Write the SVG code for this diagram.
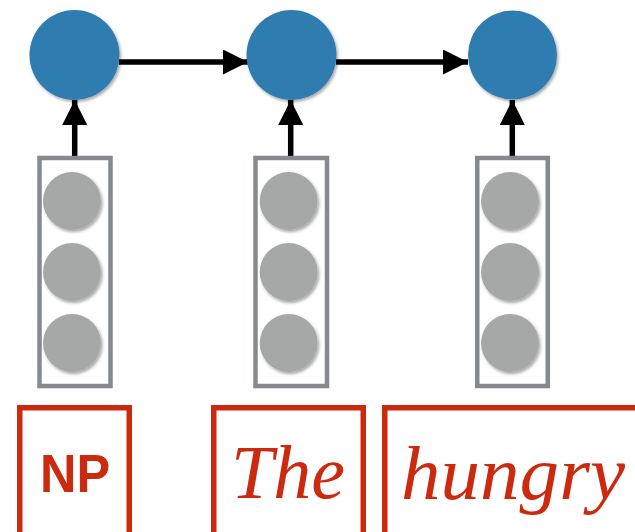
<svg xmlns="http://www.w3.org/2000/svg" width="635" height="532" viewBox="0 0 635 532">
<defs>
<filter id="sh" x="-20%" y="-20%" width="150%" height="150%">
<feDropShadow dx="1.5" dy="2" stdDeviation="1.5" flood-color="#000" flood-opacity="0.35"/>
</filter>
<marker id="ah" viewBox="0 0 25 25" refX="25" refY="12.5" markerWidth="25" markerHeight="25" markerUnits="userSpaceOnUse" orient="auto">
<path d="M0,0 L25,12.5 L0,25 Z" fill="#000"/>
</marker>
</defs>
<style>
.hid{fill:#2E7BB0;filter:url(#sh)}
.emb{fill:none;stroke:#86898D;stroke-width:4.5}
.dot{fill:#A6A8A7;filter:url(#sh)}
.lab{fill:none;stroke:#CC2A0E;stroke-width:5.5}
.conn{stroke:#000;stroke-width:5.5;fill:none;marker-end:url(#ah)}
.np{font-family:"Liberation Sans",Arial,sans-serif;font-weight:bold;font-size:54px;fill:#CC2A0E}
.w{font-family:"Liberation Serif","Times New Roman",serif;font-style:italic;font-size:77px;fill:#CC2A0E}
</style>
<g id="connectors">
<line class="conn" x1="119" y1="62" x2="248" y2="62"/>
<line class="conn" x1="336" y1="62" x2="468" y2="62"/>
<line class="conn" x1="74.7" y1="156" x2="74.7" y2="100"/>
<line class="conn" x1="290.7" y1="156" x2="290.7" y2="100"/>
<line class="conn" x1="512.3" y1="156" x2="512.3" y2="100"/>
</g>
<g id="h1"><circle class="hid" cx="74.5" cy="55" r="45"/></g>
<g id="h2"><circle class="hid" cx="291.5" cy="55" r="45"/></g>
<g id="h3"><circle class="hid" cx="512.5" cy="55" r="44.5"/></g>
<g id="e1">
<rect class="emb" x="39.5" y="158" width="71" height="228"/>
<circle class="dot" cx="72" cy="201" r="29"/>
<circle class="dot" cx="72" cy="272" r="29"/>
<circle class="dot" cx="72" cy="343" r="29"/>
</g>
<g id="e2">
<rect class="emb" x="255.5" y="158" width="71.5" height="228"/>
<circle class="dot" cx="288.7" cy="201" r="29"/>
<circle class="dot" cx="288.7" cy="272" r="29"/>
<circle class="dot" cx="288.7" cy="343" r="29"/>
</g>
<g id="e3">
<rect class="emb" x="477.25" y="158" width="70.5" height="228"/>
<circle class="dot" cx="510" cy="201" r="29"/>
<circle class="dot" cx="510" cy="272" r="29"/>
<circle class="dot" cx="510" cy="343" r="29"/>
</g>
<g id="l1">
<rect class="lab" x="19.75" y="407.75" width="109.5" height="140"/>
<text class="np" x="75" y="492" text-anchor="middle" textLength="70" lengthAdjust="spacingAndGlyphs">NP</text>
</g>
<g id="l2">
<rect class="lab" x="213.75" y="407.75" width="149.5" height="140"/>
<text class="w" x="231" y="498" textLength="114" lengthAdjust="spacingAndGlyphs">The</text>
</g>
<g id="l3">
<rect class="lab" x="384.75" y="407.75" width="270" height="140"/>
<text class="w" x="401" y="499" textLength="224" lengthAdjust="spacingAndGlyphs">hungry</text>
</g>
</svg>
